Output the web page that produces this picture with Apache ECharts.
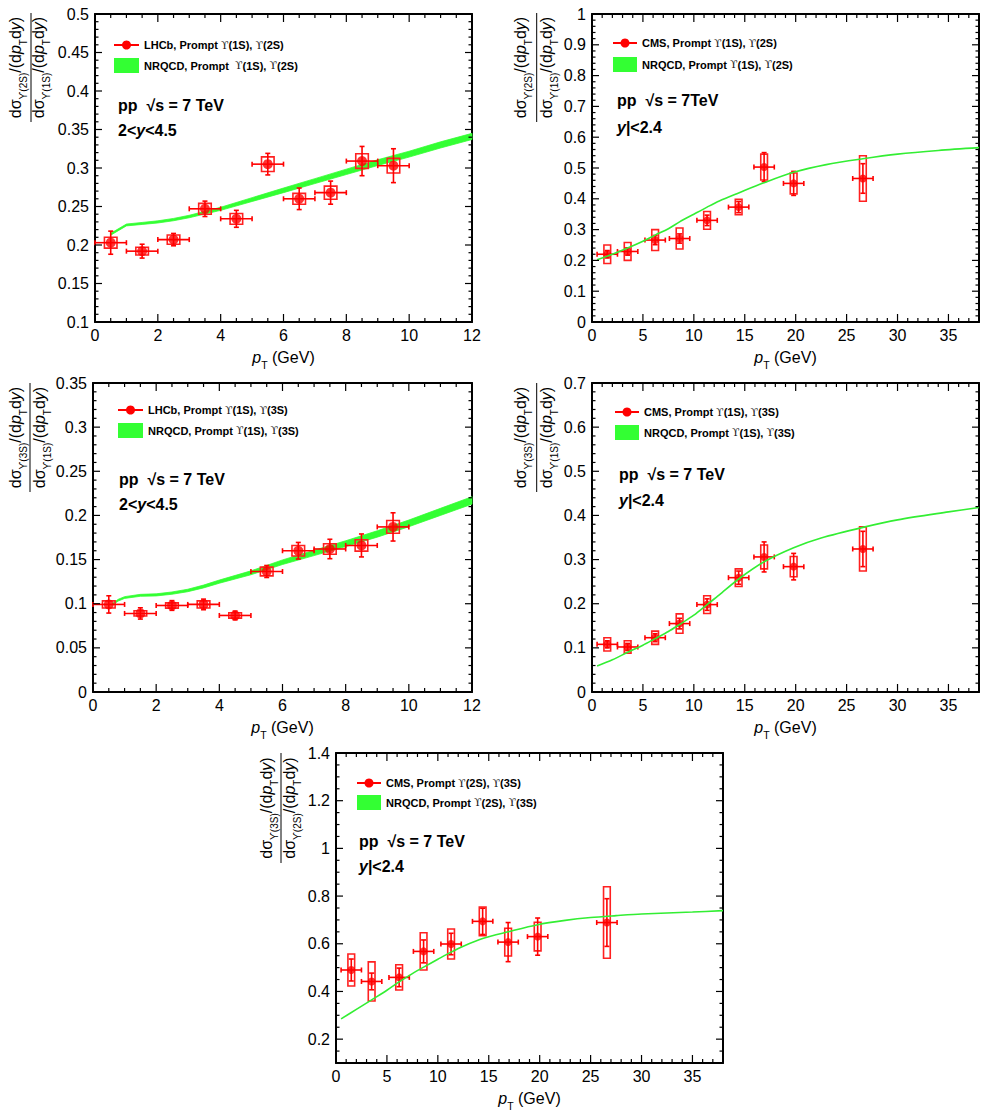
<!DOCTYPE html>
<html>
<head>
<meta charset="utf-8">
<script src="https://cdn.jsdelivr.net/npm/echarts@6/dist/echarts.min.js"></script>
<style>
  html, body { margin: 0; padding: 0; background: #fff; }
  #chart { width: 986px; height: 1117px; }
</style>
</head>
<body>
<div id="chart"></div>
<script>
// ---------------- data ----------------
// LHCb, 2 < y < 4.5
const lhcbPt = [0.5, 1.5, 2.5, 3.5, 4.5, 5.5, 6.5, 7.5, 8.5, 9.5];
const lhcbPtErr = [0.5, 0.5, 0.5, 0.5, 0.5, 0.5, 0.5, 0.5, 0.5, 0.5];
const r21Lhcb = [0.203, 0.192, 0.207, 0.247, 0.234, 0.305, 0.260, 0.268, 0.309, 0.303];
const r21LhcbStat = [0.015, 0.009, 0.008, 0.010, 0.011, 0.014, 0.014, 0.015, 0.019, 0.022];
const r21LhcbSyst = [0.007, 0.005, 0.006, 0.007, 0.007, 0.0095, 0.007, 0.0085, 0.0095, 0.0095];
const r31Lhcb = [0.0992, 0.089, 0.098, 0.0992, 0.0867, 0.1365, 0.160, 0.162, 0.166, 0.187];
const r31LhcbStat = [0.0098, 0.0064, 0.0055, 0.006, 0.005, 0.0068, 0.0094, 0.011, 0.013, 0.016];
const r31LhcbSyst = [0.004, 0.003, 0.003, 0.004, 0.003, 0.005, 0.006, 0.006, 0.0064, 0.0072];

// CMS, |y| < 2.4
const cmsPt = [1.5, 3.5, 6.2, 8.6, 11.3, 14.4, 16.9, 19.8, 26.6];
const cmsPtErr = [1, 1, 1, 1, 1, 1, 1, 1, 1];
const r21Cms = [0.220, 0.229, 0.266, 0.271, 0.330, 0.373, 0.503, 0.450, 0.466];
const r21CmsStat = [0.012, 0.012, 0.015, 0.015, 0.017, 0.018, 0.047, 0.039, 0.048];
const r21CmsSyst = [0.030, 0.029, 0.034, 0.034, 0.029, 0.025, 0.042, 0.034, 0.074];
const r31Cms = [0.108, 0.102, 0.123, 0.155, 0.198, 0.259, 0.306, 0.284, 0.324];
const r31CmsStat = [0.008, 0.008, 0.009, 0.012, 0.013, 0.015, 0.034, 0.030, 0.040];
const r31CmsSyst = [0.015, 0.014, 0.015, 0.022, 0.020, 0.020, 0.027, 0.023, 0.050];
const r32Cms = [0.490, 0.442, 0.459, 0.568, 0.599, 0.694, 0.607, 0.630, 0.689];
const r32CmsStat = [0.046, 0.035, 0.039, 0.048, 0.045, 0.055, 0.082, 0.078, 0.100];
const r32CmsSyst = [0.067, 0.082, 0.053, 0.078, 0.063, 0.060, 0.058, 0.060, 0.150];

// NRQCD predictions
const nrqcd21LhcbPt = [0.5, 1, 1.5, 2, 2.5, 3, 3.5, 4, 5, 6, 7, 8, 9, 10, 11, 12];
const r21NrqcdLo = [0.2128, 0.2248, 0.2267, 0.2286, 0.2315, 0.2354, 0.2402, 0.245, 0.2565, 0.268, 0.2798, 0.2915, 0.3033, 0.3142, 0.326, 0.337];
const r21NrqcdHi = [0.2152, 0.2272, 0.2293, 0.2314, 0.2345, 0.2386, 0.2438, 0.249, 0.2615, 0.274, 0.2862, 0.2985, 0.3107, 0.3218, 0.334, 0.345];
const nrqcd31LhcbPt = [0.6, 0.8, 1, 1.5, 2, 2.5, 3, 3.5, 4, 5, 6, 7, 8, 9, 10, 11, 12];
const r31NrqcdLo = [0.0982, 0.103, 0.106, 0.1084, 0.1088, 0.1107, 0.1136, 0.1179, 0.1232, 0.1328, 0.1444, 0.1545, 0.1647, 0.1754, 0.1872, 0.200, 0.2128];
const r31NrqcdHi = [0.0998, 0.105, 0.108, 0.1106, 0.1112, 0.1133, 0.1164, 0.1211, 0.1268, 0.1372, 0.1496, 0.1605, 0.1713, 0.1826, 0.1948, 0.208, 0.2212];
const nrqcd21CmsPt = [0.5, 2, 3.5, 5, 6.2, 7.5, 8.6, 10, 11.3, 12.5, 14.4, 16.8, 19.8, 23, 26.6, 30, 34, 38];
const r21NrqcdCms = [0.202, 0.220, 0.240, 0.262, 0.282, 0.303, 0.325, 0.350, 0.373, 0.393, 0.419, 0.451, 0.486, 0.511, 0.530, 0.545, 0.557, 0.566];
const nrqcd31CmsPt = [0.5, 2, 3.5, 5, 6.2, 7.5, 8.6, 10, 11.3, 12.5, 14.4, 16.9, 19.8, 22.5, 26.6, 30, 35, 38];
const r31NrqcdCms = [0.059, 0.073, 0.090, 0.106, 0.121, 0.137, 0.153, 0.174, 0.198, 0.220, 0.256, 0.295, 0.327, 0.349, 0.373, 0.390, 0.408, 0.418];
const nrqcd32CmsPt = [0.5, 2, 3.5, 5, 6.2, 7.5, 8.6, 10, 11.3, 12.5, 14.4, 16.9, 19.8, 22.5, 25, 27.5, 30, 35, 38];
const r32NrqcdCms = [0.285, 0.325, 0.365, 0.405, 0.44, 0.475, 0.502, 0.535, 0.565, 0.59, 0.622, 0.65, 0.68, 0.698, 0.71, 0.718, 0.725, 0.733, 0.739];

// tick labels
const ticksPtLhcb = [0, 2, 4, 6, 8, 10, 12];
const ticksPtCms = [0, 5, 10, 15, 20, 25, 30, 35];
const ticksR21Lhcb = [0.1, 0.15, 0.2, 0.25, 0.3, 0.35, 0.4, 0.45, 0.5];
const ticksR21Cms = [0, 0.1, 0.2, 0.3, 0.4, 0.5, 0.6, 0.7, 0.8, 0.9, 1];
const ticksR31Lhcb = [0, 0.05, 0.1, 0.15, 0.2, 0.25, 0.3, 0.35];
const ticksR31Cms = [0, 0.1, 0.2, 0.3, 0.4, 0.5, 0.6, 0.7];
const ticksR32Cms = [0.2, 0.4, 0.6, 0.8, 1, 1.2, 1.4];

// ---------------- helpers ----------------
const FONT = '"Liberation Sans", Arial, sans-serif';
const RED = '#ff0000';
const GREEN = '#33ff33';

const option = {
  animation: false,
  backgroundColor: '#fff',
  grid: [],
  xAxis: [],
  yAxis: [],
  series: [],
  graphic: []
};
const panels = [];

const fmt = v => String(parseFloat(Number(v).toFixed(4)));

// labelled axis on bottom/left, bare axis line on top/right to close the frame
function addAxes(list, gi, isX, range, ticks, extra) {
  const sides = isX ? ['bottom', 'top'] : ['left', 'right'];
  const base = { type: 'value', gridIndex: gi, min: range[0], max: range[1], splitLine: { show: false }, axisTick: { show: false } };
  const first = list.length;
  list.push(Object.assign({}, base, {
    position: sides[0],
    axisLine: { show: true, onZero: false, lineStyle: { color: '#000', width: 2 } },
    axisLabel: {
      show: true,
      customValues: ticks,
      formatter: fmt,
      color: '#000',
      fontFamily: FONT,
      fontSize: 16,
      margin: isX ? 5 : 6
    }
  }, extra));
  list.push(Object.assign({}, base, {
    position: sides[1],
    axisLine: { show: true, onZero: false, lineStyle: { color: '#000', width: 2 } },
    axisLabel: { show: false }
  }));
  return first;
}

const ptName = {
  name: '{i|p}{s|T}{n| (GeV)}',
  nameLocation: 'middle',
  nameGap: 22,
  nameTextStyle: {
    color: '#000',
    rich: {
      i: { fontFamily: FONT, fontSize: 16, fontStyle: 'italic', lineHeight: 26 },
      s: { fontFamily: FONT, fontSize: 10.5, lineHeight: 10, verticalAlign: 'bottom' },
      n: { fontFamily: FONT, fontSize: 16, lineHeight: 26 }
    }
  }
};

function minorValues(range, step, majors) {
  const out = [];
  const n = Math.round((range[1] - range[0]) / step);
  for (let k = 0; k <= n; k++) {
    const v = +(range[0] + k * step).toFixed(6);
    if (!majors.some(m => Math.abs(m - v) < step / 10)) out.push(v);
  }
  return out;
}

function addPanel(p) {
  const gi = option.grid.length;
  option.grid.push(Object.assign({}, p.grid));
  const xi = addAxes(option.xAxis, gi, true, p.xRange, p.xTicks, ptName);
  const yi = addAxes(option.yAxis, gi, false, p.yRange, p.yTicks, {});
  p.ax = { xi, yi };
  panels.push(p);
  return p.ax;
}

function errorItem(cap) {
  return function (params, api) {
    const x = api.value(0), y = api.value(1), ex = api.value(2), ey = api.value(3);
    const l = api.coord([x - ex, y]), r = api.coord([x + ex, y]);
    const t = api.coord([x, y + ey]), b = api.coord([x, y - ey]);
    const seg = (x1, y1, x2, y2) => ({ type: 'line', shape: { x1, y1, x2, y2 }, style: { stroke: RED, lineWidth: 1.6 } });
    return {
      type: 'group',
      children: [
        seg(l[0], l[1], r[0], r[1]),
        seg(t[0], t[1], b[0], b[1]),
        seg(l[0], l[1] - cap, l[0], l[1] + cap),
        seg(r[0], r[1] - cap, r[0], r[1] + cap),
        seg(t[0] - cap, t[1], t[0] + cap, t[1]),
        seg(b[0] - cap, b[1], b[0] + cap, b[1])
      ]
    };
  };
}

function boxItem(halfW) {
  return function (params, api) {
    const x = api.value(0), y = api.value(1), s = api.value(2);
    const p0 = api.coord([x - halfW, y + s]);
    const p1 = api.coord([x + halfW, y - s]);
    return {
      type: 'rect',
      shape: { x: p0[0], y: p0[1], width: p1[0] - p0[0], height: p1[1] - p0[1] },
      style: { fill: 'none', stroke: '#ff2020', lineWidth: 1.6 }
    };
  };
}

function addData(ax, pts, ptErr, vals, stat, syst, boxHalf, dotSize) {
  option.series.push({
    type: 'custom', xAxisIndex: ax.xi, yAxisIndex: ax.yi,
    data: pts.map((x, i) => [x, vals[i], syst[i]]),
    encode: { x: 0, y: 1 },
    renderItem: boxItem(boxHalf)
  });
  option.series.push({
    type: 'custom', xAxisIndex: ax.xi, yAxisIndex: ax.yi,
    data: pts.map((x, i) => [x, vals[i], ptErr[i], stat[i]]),
    encode: { x: 0, y: 1 },
    renderItem: errorItem(2.5)
  });
  option.series.push({
    type: 'scatter', xAxisIndex: ax.xi, yAxisIndex: ax.yi,
    symbol: 'circle', symbolSize: dotSize,
    itemStyle: { color: RED },
    data: pts.map((x, i) => [x, vals[i]])
  });
  panels[panels.length - 1].seriesIndex = option.series.length - 1;
}

function addBand(ax, xs, lo, hi) {
  option.series.push({
    type: 'custom', xAxisIndex: ax.xi, yAxisIndex: ax.yi,
    data: xs.map((x, i) => [x, lo[i], hi[i]]),
    encode: { x: 0, y: [1, 2] },
    renderItem: function (params, api) {
      if (params.dataIndex !== 0) return null;
      const poly = [];
      xs.forEach((x, i) => poly.push(api.coord([x, hi[i]])));
      for (let i = xs.length - 1; i >= 0; i--) poly.push(api.coord([xs[i], lo[i]]));
      return { type: 'polygon', shape: { points: poly }, style: { fill: GREEN, stroke: GREEN, lineWidth: 0.8 } };
    }
  });
}

function addCurve(ax, xs, ys) {
  option.series.push({
    type: 'line', xAxisIndex: ax.xi, yAxisIndex: ax.yi,
    showSymbol: false, smooth: 0.3,
    lineStyle: { color: '#33ee33', width: 1.6 },
    data: xs.map((x, i) => [x, ys[i]])
  });
}

const titleRich = {
  a: { fontFamily: FONT, fontSize: 16, lineHeight: 26, fill: '#000' },
  i: { fontFamily: FONT, fontSize: 16, fontStyle: 'italic', lineHeight: 26, fill: '#000' },
  s: { fontFamily: FONT, fontSize: 10, lineHeight: 10, verticalAlign: 'bottom', fill: '#000' }
};

function addYTitle(t, top, bottom) {
  const mk = s => '{a|dσ}{s|ϒ(' + s + ')}{a|/(d}{i|p}{s|T}{a|d}{i|y}{a|)}';
  const yc = (t.yTop + t.yBot) / 2;
  option.graphic.push(
    { type: 'text', x: t.xNum, y: yc, rotation: Math.PI / 2,
      style: { text: mk(top), rich: titleRich, align: 'center', verticalAlign: 'middle' } },
    { type: 'line', shape: { x1: t.xBar, y1: t.yTop, x2: t.xBar, y2: t.yBot },
      style: { stroke: '#000', lineWidth: 1 } },
    { type: 'text', x: t.xDen, y: yc, rotation: Math.PI / 2,
      style: { text: mk(bottom), rich: titleRich, align: 'center', verticalAlign: 'middle' } }
  );
}

const legendRich = {
  b: { fontFamily: FONT, fontSize: 11, fontWeight: 'bold', fill: '#000' },
  u: { fontFamily: '"DejaVu Serif", "DejaVu Sans", serif', fontSize: 11, fill: '#222' }
};
const noteRich = {
  b: { fontFamily: FONT, fontSize: 16, fontWeight: 'bold', fill: '#000' },
  bi: { fontFamily: FONT, fontSize: 16, fontWeight: 'bold', fontStyle: 'italic', fill: '#000' }
};

function addLegend(g, L, dataText, thText, line1, line2) {
  const x1 = g.left + L.lx1, x2 = g.left + L.lx2, ly = g.top + L.ly, ry = g.top + L.ry;
  option.graphic.push(
    { type: 'line', shape: { x1, y1: ly, x2, y2: ly }, style: { stroke: RED, lineWidth: 2 } },
    { type: 'circle', shape: { cx: (x1 + x2) / 2, cy: ly, r: 4.5 }, style: { fill: RED } },
    { type: 'text', x: g.left + L.tx, y: ly,
      style: { text: dataText, rich: legendRich, verticalAlign: 'middle', align: 'left' } },
    { type: 'rect', shape: { x: x1, y: ry, width: x2 - x1, height: 15 }, style: { fill: GREEN } },
    { type: 'text', x: g.left + L.tx, y: ry + 7.5,
      style: { text: thText, rich: legendRich, verticalAlign: 'middle', align: 'left' } },
    { type: 'text', x: g.left + L.ax, y: g.top + L.ay1,
      style: { text: line1, rich: noteRich, verticalAlign: 'middle', align: 'left' } },
    { type: 'text', x: g.left + L.ax, y: g.top + L.ay2,
      style: { text: line2, rich: noteRich, verticalAlign: 'middle', align: 'left' } }
  );
}

const lhcbRap = '{b|2<}{bi|y}{b|<4.5}';
const cmsRap = '{bi|y}{b||<2.4}';
const pair = (a, b) => '{u|ϒ}{b|(' + a + '), }{u|ϒ}{b|(' + b + ')}';

// ---------------- panel 1: LHCb 2S/1S ----------------
const g1 = { left: 95, top: 14, width: 377, height: 308 };
const a1 = addPanel({ grid: g1, xRange: [0, 12], xTicks: ticksPtLhcb, xMinor: 0.5, yRange: [0.1, 0.5], yTicks: ticksR21Lhcb, yMinor: 0.01 });
addBand(a1, nrqcd21LhcbPt, r21NrqcdLo, r21NrqcdHi);
addData(a1, lhcbPt, lhcbPtErr, r21Lhcb, r21LhcbStat, r21LhcbSyst, 0.2, 10);
addYTitle({ xNum: 15.5, xBar: 31, xDen: 38.5, yTop: 13, yBot: 122 }, '2S', '1S');
addLegend(g1, { lx1: 19, lx2: 44, ly: 31, tx: 49, ry: 44, ax: 23, ay1: 91, ay2: 116.5 },
  '{b|LHCb, Prompt }' + pair('1S', '2S'), '{b|NRQCD, Prompt  }' + pair('1S', '2S'),
  '{b|pp  √s = 7 TeV}', lhcbRap);

// ---------------- panel 2: CMS 2S/1S ----------------
const g2 = { left: 592, top: 14, width: 387, height: 308 };
const a2 = addPanel({ grid: g2, xRange: [0, 38], xTicks: ticksPtCms, xMinor: 1, yRange: [0, 1], yTicks: ticksR21Cms, yMinor: 0.02 });
addCurve(a2, nrqcd21CmsPt, r21NrqcdCms);
addData(a2, cmsPt, cmsPtErr, r21Cms, r21CmsStat, r21CmsSyst, 0.33, 8);
addYTitle({ xNum: 520.5, xBar: 536.7, xDen: 546, yTop: 13, yBot: 122 }, '2S', '1S');
addLegend(g2, { lx1: 21, lx2: 45, ly: 29, tx: 50, ry: 43, ax: 25, ay1: 86, ay2: 113 },
  '{b|CMS, Prompt }' + pair('1S', '2S'), '{b|NRQCD, Prompt }' + pair('1S', '2S'),
  '{b|pp  √s = 7TeV}', cmsRap);

// ---------------- panel 3: LHCb 3S/1S ----------------
const g3 = { left: 93, top: 383, width: 379, height: 309 };
const a3 = addPanel({ grid: g3, xRange: [0, 12], xTicks: ticksPtLhcb, xMinor: 0.5, yRange: [0, 0.35], yTicks: ticksR31Lhcb, yMinor: 0.01 });
addBand(a3, nrqcd31LhcbPt, r31NrqcdLo, r31NrqcdHi);
addData(a3, lhcbPt, lhcbPtErr, r31Lhcb, r31LhcbStat, r31LhcbSyst, 0.2, 10);
addYTitle({ xNum: 15, xBar: 30, xDen: 39, yTop: 383, yBot: 492 }, '3S', '1S');
addLegend(g3, { lx1: 25, lx2: 50, ly: 27, tx: 55, ry: 40, ax: 26, ay1: 96, ay2: 121.5 },
  '{b|LHCb, Prompt }' + pair('1S', '3S'), '{b|NRQCD, Prompt }' + pair('1S', '3S'),
  '{b|pp  √s = 7 TeV}', lhcbRap);

// ---------------- panel 4: CMS 3S/1S ----------------
const g4 = { left: 592, top: 383, width: 387, height: 309 };
const a4 = addPanel({ grid: g4, xRange: [0, 38], xTicks: ticksPtCms, xMinor: 1, yRange: [0, 0.7], yTicks: ticksR31Cms, yMinor: 0.02 });
addCurve(a4, nrqcd31CmsPt, r31NrqcdCms);
addData(a4, cmsPt, cmsPtErr, r31Cms, r31CmsStat, r31CmsSyst, 0.33, 8);
addYTitle({ xNum: 520.5, xBar: 536.7, xDen: 546, yTop: 383, yBot: 492 }, '3S', '1S');
addLegend(g4, { lx1: 23, lx2: 47, ly: 29, tx: 52, ry: 42, ax: 27, ay1: 91.5, ay2: 117.5 },
  '{b|CMS, Prompt }' + pair('1S', '3S'), '{b|NRQCD, Prompt }' + pair('1S', '3S'),
  '{b|pp  √s = 7 TeV}', cmsRap);

// ---------------- panel 5: CMS 3S/2S ----------------
const g5 = { left: 336, top: 753, width: 387, height: 310 };
const a5 = addPanel({ grid: g5, xRange: [0, 38], xTicks: ticksPtCms, xMinor: 1, yRange: [0.1, 1.4], yTicks: ticksR32Cms, yMinor: 0.05 });
addCurve(a5, nrqcd32CmsPt, r32NrqcdCms);
addData(a5, cmsPt, cmsPtErr, r32Cms, r32CmsStat, r32CmsSyst, 0.33, 8);
addYTitle({ xNum: 266, xBar: 281, xDen: 289, yTop: 753, yBot: 863 }, '3S', '2S');
addLegend(g5, { lx1: 21, lx2: 45, ly: 30, tx: 50, ry: 42, ax: 23, ay1: 88, ay2: 113.5 },
  '{b|CMS, Prompt }' + pair('2S', '3S'), '{b|NRQCD, Prompt }' + pair('2S', '3S'),
  '{b|pp  √s = 7 TeV}', cmsRap);

const chart = echarts.init(document.getElementById('chart'), null, { renderer: 'svg' });
chart.setOption(option);

// inward ROOT-style ticks on all four sides, placed through each panel's axis scales
const tickEls = [];
panels.forEach(p => {
  const finder = { seriesIndex: p.seriesIndex };
  const at = (x, y) => chart.convertToPixel(finder, [x, y]);
  const seg = (x1, y1, x2, y2) => tickEls.push({
    type: 'line', z: 100, silent: true,
    shape: { x1, y1, x2, y2 },
    style: { stroke: '#000', lineWidth: 1.2 }
  });
  const xt = p.xTicks.map(v => [v, 8]).concat(minorValues(p.xRange, p.xMinor, p.xTicks).map(v => [v, 4]));
  const yt = p.yTicks.map(v => [v, 7]).concat(minorValues(p.yRange, p.yMinor, p.yTicks).map(v => [v, 3.5]));
  xt.forEach(([v, len]) => {
    const a = at(v, p.yRange[0]), b = at(v, p.yRange[1]);
    seg(a[0], a[1], a[0], a[1] - len);
    seg(b[0], b[1], b[0], b[1] + len);
  });
  yt.forEach(([v, len]) => {
    const a = at(p.xRange[0], v), b = at(p.xRange[1], v);
    seg(a[0], a[1], a[0] + len, a[1]);
    seg(b[0], b[1], b[0] - len, b[1]);
  });
});
chart.setOption({ graphic: option.graphic.concat(tickEls) });
</script>
</body>
</html>
